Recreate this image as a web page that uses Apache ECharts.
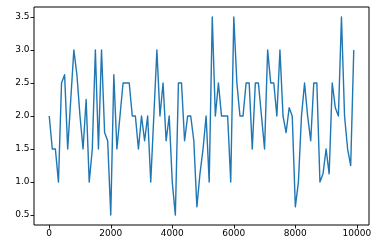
<!DOCTYPE html>
<html>
<head>
<meta charset="utf-8">
<script src="https://cdn.jsdelivr.net/npm/echarts@6/dist/echarts.min.js"></script>
<style>html,body{margin:0;padding:0;background:#fff}#c{width:384px;height:252px}</style>
</head>
<body>
<div id="c"></div>
<script>
var xValues = [0,100,200,300,400,500,600,700,800,900,
  1000,1100,1200,1300,1400,1500,1600,1700,1800,1900,
  2000,2100,2200,2300,2400,2500,2600,2700,2800,2900,
  3000,3100,3200,3300,3400,3500,3600,3700,3800,3900,
  4000,4100,4200,4300,4400,4500,4600,4700,4800,4900,
  5000,5100,5200,5300,5400,5500,5600,5700,5800,5900,
  6000,6100,6200,6300,6400,6500,6600,6700,6800,6900,
  7000,7100,7200,7300,7400,7500,7600,7700,7800,7900,
  8000,8100,8200,8300,8400,8500,8600,8700,8800,8900,
  9000,9100,9200,9300,9400,9500,9600,9700,9800,9900];
var yValues = [2.0,1.5,1.5,1.0,2.5,2.625,1.5,2.25,3.0,2.625,
  2.0,1.5,2.25,1.0,1.5,3.0,1.5,3.0,1.75,1.625,
  0.5,2.625,1.5,2.0,2.5,2.5,2.5,2.0,2.0,1.5,
  2.0,1.625,2.0,1.0,2.0,3.0,2.0,2.5,1.625,2.0,
  1.0,0.5,2.5,2.5,1.625,2.0,2.0,1.625,0.625,1.125,
  1.5,2.0,1.0,3.5,2.0,2.5,2.0,2.0,2.0,1.0,
  3.5,2.5,2.0,2.0,2.5,2.5,1.5,2.5,2.5,2.0,
  1.5,3.0,2.5,2.5,2.0,3.0,2.0,1.75,2.125,2.0,
  0.625,1.0,2.0,2.5,2.0,1.625,2.5,2.5,1.0,1.125,
  1.5,1.125,2.5,2.125,2.0,3.5,2.0,1.5,1.25,3.0];
var xTickMin = 0, xTickMax = 10000, xTickStep = 2000;
var yTickMin = 0.5, yTickMax = 3.5, yTickStep = 0.5;

var data = xValues.map(function(x,i){return [x,yValues[i]];});

// frame (matplotlib axes box) and inner data area (5% margins)
var F = {left:34, right:15, top:7, bottom:27};
var W = 384 - F.left - F.right, H = 252 - F.top - F.bottom;
var xPad = (xTickMax - xTickMin) * 0 + 495, xSpan = 10890;
var yPad = 0.15, ySpan = 3.3;
var offX = W * xPad / xSpan;            // left inner offset
var offXr = W * (10395 - xTickMax) / xSpan;
var offY = H * yPad / ySpan;

var chart = echarts.init(document.getElementById('c'), null, {renderer:'canvas'});
var lbl = {color:'#000', fontFamily:'DejaVu Sans', fontSize:9};
chart.setOption({
  animation:false,
  grid:[
    {left:F.left+offX, right:F.right+offXr, top:F.top+offY, bottom:F.bottom+offY, show:false},
    {left:F.left, right:F.right, top:F.top, bottom:F.bottom, show:true, borderColor:'#000', borderWidth:1, backgroundColor:'transparent', z:5}
  ],
  xAxis:[
    {type:'value',gridIndex:0,min:xTickMin,max:xTickMax,interval:xTickStep,position:'bottom',offset:offY,
      axisLine:{show:false,onZero:false},
      splitLine:{show:false},
      axisTick:{show:true,inside:false,length:3.5,lineStyle:{color:'#000',width:0.9}},
      axisLabel:Object.assign({margin:4.5,formatter:function(v){return String(v);}},lbl)},
    {type:'value',gridIndex:1,show:false,min:0,max:1}
  ],
  yAxis:[
    {type:'value',gridIndex:0,min:yTickMin,max:yTickMax,interval:yTickStep,position:'left',offset:offX,
      axisLine:{show:false,onZero:false},
      splitLine:{show:false},
      axisTick:{show:true,inside:false,length:3.5,lineStyle:{color:'#000',width:0.9}},
      axisLabel:Object.assign({margin:4.5,formatter:function(v){return v.toFixed(1);}},lbl)},
    {type:'value',gridIndex:1,show:false,min:0,max:1}
  ],
  series:[{type:'line',xAxisIndex:0,yAxisIndex:0,data:data,showSymbol:false,symbol:'none',clip:false,
    lineStyle:{color:'#1f77b4',width:1.4,join:'round',cap:'butt'}}]
});
</script>
</body>
</html>
